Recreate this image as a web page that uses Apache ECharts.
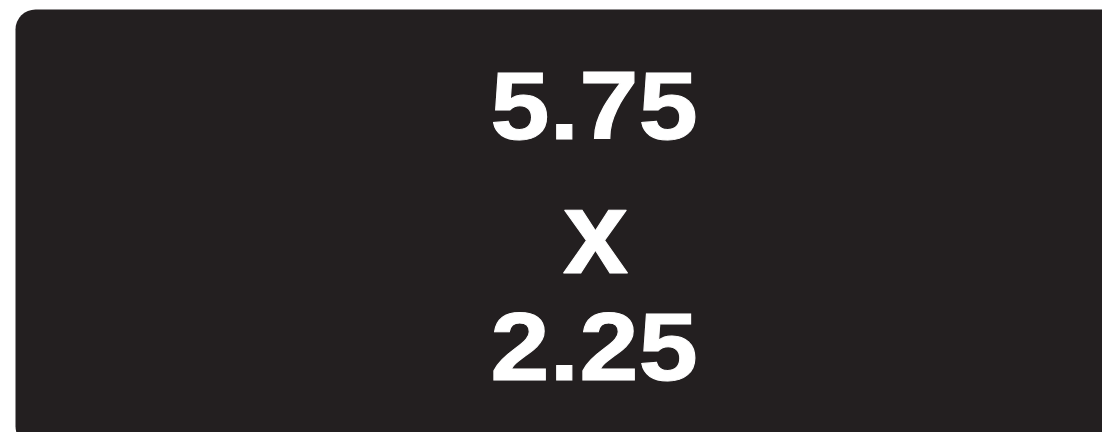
<!DOCTYPE html>
<html>
<head>
<meta charset="utf-8">
<script src="https://cdn.jsdelivr.net/npm/echarts@6/dist/echarts.min.js"></script>
<style>
  html, body { margin: 0; padding: 0; background: #fff; }
  #main { width: 1102px; height: 432px; }
</style>
</head>
<body>
<div id="main"></div>
<script>
// label values
var sizes = ['5.75', '2.25'];
var joiner = 'x';
var rowY = [112, 353];

var chart = echarts.init(document.getElementById('main'), null, { renderer: 'canvas' });

var numText = function (txt, y) {
  return {
    type: 'text',
    x: 594,
    y: y,
    scaleX: 1.1,
    style: {
      text: txt,
      fill: '#ffffff',
      stroke: '#ffffff',
      lineWidth: 1,
      font: 'bold 97px "Liberation Sans", Arial, sans-serif',
      align: 'center',
      verticalAlign: 'middle'
    }
  };
};

var option = {
  backgroundColor: '#ffffff',
  animation: false,
  graphic: [
    {
      type: 'rect',
      shape: { x: 15.5, y: 9.5, width: 1158, height: 437, r: 20 },
      style: { fill: '#231f20' }
    },
    numText(sizes[0], rowY[0]),
    {
      type: 'text',
      x: 595.5,
      y: 240,
      style: {
        text: joiner,
        fill: '#ffffff',
        stroke: '#ffffff',
        lineWidth: 1,
        font: 'bold 118px "Liberation Sans", Arial, sans-serif',
        align: 'center',
        verticalAlign: 'middle'
      }
    },
    numText(sizes[1], rowY[1])
  ]
};
chart.setOption(option);
</script>
</body>
</html>
